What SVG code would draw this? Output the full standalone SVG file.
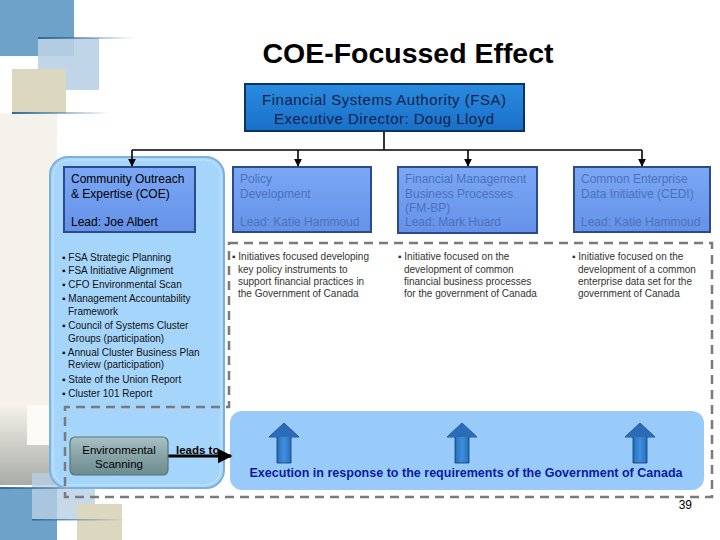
<svg xmlns="http://www.w3.org/2000/svg" width="720" height="540" viewBox="0 0 720 540">
<defs>
<style>
text{font-family:"Liberation Sans",Arial,sans-serif}
.title{font-size:28px;font-weight:bold;fill:#000}
.fsa{font-size:15px;fill:#10224a}
.box{fill:url(#boxg);stroke:#2c4b8c;stroke-width:2}
.lbl{font-size:12px;fill:#000}
.lbl2{font-size:12px;fill:#4e70bd}
.env{font-size:11.5px;fill:#000}
.bul{font-size:10px;fill:#111}
.bul2{font-size:10px;fill:#333}
.conn{stroke:#000;stroke-width:1.6;fill:none}
.dash{stroke:#7a7a7a;stroke-width:2.5;stroke-dasharray:9,6;fill:none}
</style>
<linearGradient id="boxg" x1="0" y1="0" x2="0" y2="1">
<stop offset="0" stop-color="#7aa8f4"/><stop offset="1" stop-color="#6592e8"/>
</linearGradient>
<linearGradient id="fsag" x1="0" y1="0" x2="0" y2="1">
<stop offset="0" stop-color="#2a8be0"/><stop offset="1" stop-color="#1a6fc8"/>
</linearGradient>
<linearGradient id="envg" x1="0" y1="0" x2="0" y2="1">
<stop offset="0" stop-color="#a9c2c4"/><stop offset="0.5" stop-color="#86a3a6"/><stop offset="1" stop-color="#6d8c90"/>
</linearGradient>
<linearGradient id="arrg" x1="0" y1="0" x2="1" y2="0">
<stop offset="0" stop-color="#0d4a8a"/><stop offset="0.5" stop-color="#3f8fe0"/><stop offset="1" stop-color="#0d4a8a"/>
</linearGradient>
<linearGradient id="lineg1" x1="0" y1="0" x2="1" y2="0">
<stop offset="0" stop-color="#2e6a9a"/><stop offset="1" stop-color="#2e6a9a" stop-opacity="0"/>
</linearGradient>
<linearGradient id="greyband" x1="0" y1="0" x2="0" y2="1">
<stop offset="0" stop-color="#f4f2ea"/><stop offset="1" stop-color="#a8aba6"/>
</linearGradient>
<marker id="ah" viewBox="0 0 10 10" refX="9" refY="5" markerWidth="5" markerHeight="5" orient="auto">
<path d="M0,0 L10,5 L0,10 z" fill="#000"/>
</marker>
<g id="uparrow">
<path d="M-7,40 L-7,14 L-15,14 L0,0 L15,14 L7,14 L7,40 z" fill="url(#arrg)" stroke="#0a3a70" stroke-width="0.8"/>
<path d="M-15,14 L0,0 L15,14 z" fill="#2a6cb8"/>
</g>
</defs>

<g id="background">
<rect x="0" y="113" width="57" height="330" fill="#f4f2ea"/>
<rect x="0" y="0" width="74" height="56" fill="#6ea2c8"/>
<rect x="38" y="38" width="61" height="52" fill="#b9d0e4" opacity="0.9"/>
<rect x="12" y="69" width="54" height="44" fill="#dcd8bf"/>
<rect x="38" y="37" width="97" height="2" fill="url(#lineg1)"/>
<rect x="12" y="112" width="98" height="2" fill="url(#lineg1)"/>
<rect x="0" y="405" width="57" height="80" fill="url(#greyband)"/>
<rect x="27" y="405" width="25" height="40" fill="#fbfaf4"/>
<rect x="0" y="488" width="57" height="52" fill="#6ea2c8"/>
<rect x="32" y="473" width="63" height="47" fill="#b9d0e4" opacity="0.8"/>
<rect x="77" y="504" width="45" height="36" fill="#dcd8bf"/>
<rect x="0" y="487" width="120" height="2" fill="url(#lineg1)"/>
<rect x="32" y="519" width="95" height="1.5" fill="url(#lineg1)"/>
</g>

<text class="title" x="408" y="63" text-anchor="middle" textLength="291" lengthAdjust="spacingAndGlyphs">COE-Focussed Effect</text>

<g id="panel-coe">
<rect x="50" y="157" width="174" height="331" rx="18" fill="#a6d5fb" stroke="#7eb0dc" stroke-width="2"/>
<rect x="53" y="160" width="168" height="325" rx="16" fill="none" stroke="#c8e6ff" stroke-width="1"/>
</g>

<g id="dashed-region">
<path class="dash" d="M229,243 L712,243 L712,497 L65,497 L65,407 L229,407 Z"/>
</g>

<g id="panel-exec">
<rect x="230" y="411" width="474" height="79" rx="12" fill="#99cbfa"/>
</g>

<g id="connectors">
<path class="conn" d="M384,131 L384,150"/>
<path class="conn" d="M132,150 L642,150"/>
<path class="conn" d="M132,150 L132,166" marker-end="url(#ah)"/>
<path class="conn" d="M298,150 L298,166" marker-end="url(#ah)"/>
<path class="conn" d="M468,150 L468,166" marker-end="url(#ah)"/>
<path class="conn" d="M642,150 L642,166" marker-end="url(#ah)"/>
<path d="M168,456 L231,456" stroke="#000" stroke-width="3" fill="none" marker-end="url(#ah)"/>
</g>

<g id="node-fsa">
<rect x="245" y="84" width="279" height="47" fill="url(#fsag)" stroke="#0c3463" stroke-width="2"/>
<text class="fsa" x="384" y="105" text-anchor="middle" textLength="244">Financial Systems Authority (FSA)</text>
<text class="fsa" x="384" y="124" text-anchor="middle" textLength="220">Executive Director: Doug Lloyd</text>
</g>

<g id="node-coe">
<rect class="box" x="64" y="167" width="131" height="65"/>
<text class="lbl" x="71" y="183">Community Outreach</text>
<text class="lbl" x="71" y="198">&amp; Expertise (COE)</text>
<text class="lbl" x="71" y="226">Lead: Joe Albert</text>
</g>

<g id="node-policy">
<rect class="box" x="233" y="167" width="138" height="65"/>
<text class="lbl2" x="240" y="183">Policy</text>
<text class="lbl2" x="240" y="198">Development</text>
<text class="lbl2" x="240" y="226">Lead: Katie Hammoud</text>
</g>

<g id="node-fmbp">
<rect class="box" x="398" y="167" width="139" height="66"/>
<text class="lbl2" x="405" y="183">Financial Management</text>
<text class="lbl2" x="405" y="198">Business Processes</text>
<text class="lbl2" x="405" y="212">(FM-BP)</text>
<text class="lbl2" x="405" y="226">Lead: Mark Huard</text>
</g>

<g id="node-cedi">
<rect class="box" x="574" y="167" width="136" height="65"/>
<text class="lbl2" x="581" y="183">Common Enterprise</text>
<text class="lbl2" x="581" y="198">Data Initiative (CEDI)</text>
<text class="lbl2" x="581" y="226">Lead: Katie Hammoud</text>
</g>

<g id="coe-list">
<text class="bul" x="62" y="261">▪ FSA Strategic Planning</text>
<text class="bul" x="62" y="274">▪ FSA Initiative Alignment</text>
<text class="bul" x="62" y="288">▪ CFO Environmental Scan</text>
<text class="bul" x="62" y="302">▪ Management Accountability</text>
<text class="bul" x="68" y="315">Framework</text>
<text class="bul" x="62" y="329">▪ Council of Systems Cluster</text>
<text class="bul" x="68" y="342">Groups (participation)</text>
<text class="bul" x="62" y="356">▪ Annual Cluster Business Plan</text>
<text class="bul" x="68" y="368">Review (participation)</text>
<text class="bul" x="62" y="383">▪ State of the Union Report</text>
<text class="bul" x="62" y="397">▪ Cluster 101 Report</text>
</g>

<g id="policy-list">
<text class="bul2" x="232" y="260">▪ Initiatives focused developing</text>
<text class="bul2" x="238" y="273">key policy instruments to</text>
<text class="bul2" x="238" y="285">support financial practices in</text>
<text class="bul2" x="238" y="297">the Government of Canada</text>
</g>
<g id="fmbp-list">
<text class="bul2" x="398" y="260">▪ Initiative focused on the</text>
<text class="bul2" x="404" y="273">development of common</text>
<text class="bul2" x="404" y="285">financial business processes</text>
<text class="bul2" x="404" y="297">for the government of Canada</text>
</g>
<g id="cedi-list">
<text class="bul2" x="572" y="260">▪ Initiative focused on the</text>
<text class="bul2" x="578" y="273">development of a common</text>
<text class="bul2" x="578" y="285">enterprise data set for the</text>
<text class="bul2" x="578" y="297">government of Canada</text>
</g>

<g id="node-env">
<rect x="70" y="437" width="98" height="38" rx="5" fill="url(#envg)" stroke="#557578" stroke-width="1.2"/>
<text class="env" x="119" y="454" text-anchor="middle">Environmental</text>
<text class="env" x="119" y="468" text-anchor="middle">Scanning</text>
</g>
<text x="176" y="454" font-size="11.5" font-weight="bold" fill="#000">leads to</text>

<g id="exec-arrows">
<use href="#uparrow" x="284" y="423"/>
<use href="#uparrow" x="462" y="423"/>
<use href="#uparrow" x="640" y="423"/>
</g>
<text x="466" y="477" text-anchor="middle" font-size="12.5" font-weight="bold" fill="#0a1aa0" textLength="433">Execution in response to the requirements of the Government of Canada</text>

<text x="692" y="509" text-anchor="end" font-size="12" fill="#000">39</text>
</svg>
